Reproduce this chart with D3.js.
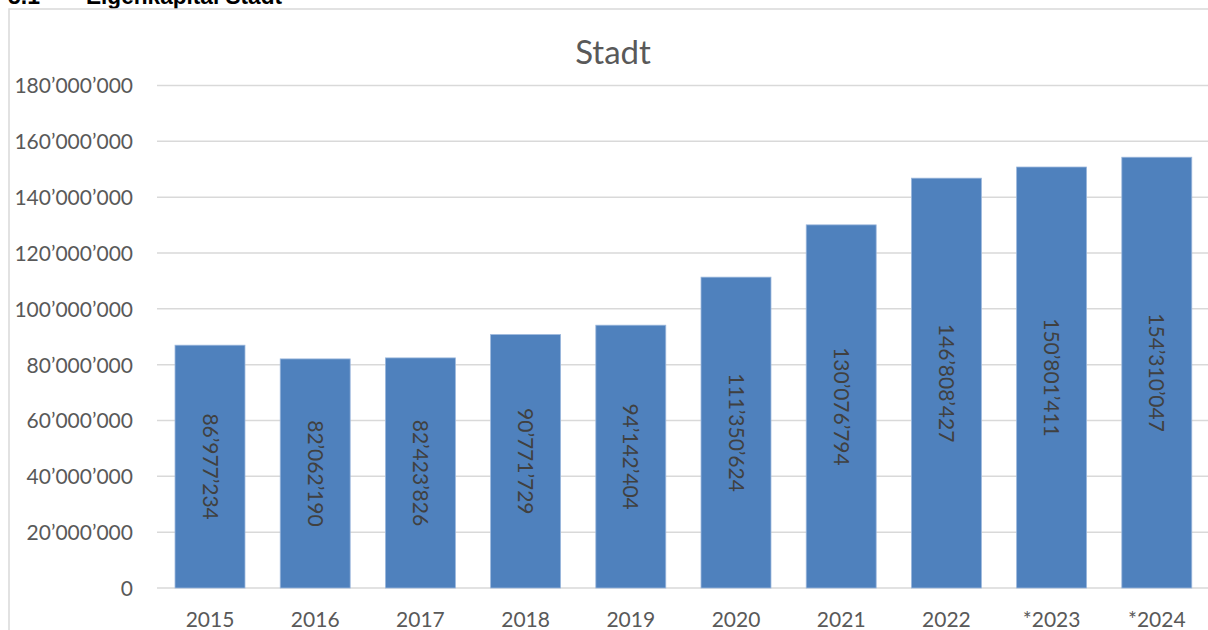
<!DOCTYPE html>
<html>
<head>
<meta charset="utf-8">
<script src="https://cdn.jsdelivr.net/npm/d3@7"></script>
<style>
html,body{margin:0;padding:0;background:#fff;overflow:hidden;}
svg{display:block;}
</style>
</head>
<body>
<svg id="chart" width="1208" height="630"></svg>
<script>
const categories = ["2015","2016","2017","2018","2019","2020","2021","2022","*2023","*2024"];
const values = [86977234, 82062190, 82423826, 90771729, 94142404, 111350624, 130076794, 146808427, 150801411, 154310047];
const yTicks = [0, 20000000, 40000000, 60000000, 80000000, 100000000, 120000000, 140000000, 160000000, 180000000];
const chartTitle = "Stadt";
const sectionHeading = ["5.1", "Eigenkapital Stadt"];

const W = 1208, H = 630;
const svg = d3.select("#chart");
const font = "Lato, 'Open Sans', sans-serif";

const locale = d3.formatLocale({decimal: ".", thousands: "\u2019", grouping: [3], currency: ["", ""]});
const fmt = locale.format(",d");

const x = d3.scaleBand().domain(categories).range([157.4, 1209.4]).paddingInner(0.335).paddingOuter(0.1675);
const y = d3.scaleLinear().domain([0, 180000000]).range([588, 85.5]);

// section heading (cut off at top edge, as in the reference)
const headFont = "'Liberation Sans', Arial, sans-serif";
svg.append("text").attr("x", 8).attr("y", 4).attr("font-family", headFont)
  .attr("font-weight", "bold").attr("font-size", 23).attr("fill", "#000").text(sectionHeading[0]);
svg.append("text").attr("x", 86).attr("y", 4).attr("font-family", headFont)
  .attr("font-weight", "bold").attr("font-size", 23).attr("fill", "#000")
  .attr("textLength", 196).attr("lengthAdjust", "spacingAndGlyphs").text(sectionHeading[1]);

// chart area border (left and top only visible)
svg.append("path").attr("d", `M9,${H} L9,9 L${W},9`)
  .attr("fill", "none").attr("stroke", "#d9d9d9").attr("stroke-width", 1.5);

// title
svg.append("text").attr("x", 613).attr("y", 64).attr("text-anchor", "middle")
  .attr("font-family", font).attr("font-size", 33).attr("fill", "#595959").text(chartTitle);

// y axis labels
const yAxis = d3.axisLeft(y).tickValues(yTicks).tickFormat(d => fmt(d)).tickSize(0).tickPadding(0);
const gy = svg.append("g").attr("transform", "translate(133,0)").call(yAxis);
gy.select(".domain").remove();
gy.selectAll("text").attr("font-family", font).attr("font-size", 21).attr("fill", "#595959").attr("dy", "0.35em");

// gridlines
svg.append("g").selectAll("line").data(yTicks).join("line")
  .attr("x1", 157).attr("x2", W).attr("y1", d => y(d)).attr("y2", d => y(d))
  .attr("stroke", "#d9d9d9").attr("stroke-width", 1.5);

// bars
svg.append("g").selectAll("rect").data(values).join("rect")
  .attr("x", (d, i) => x(categories[i])).attr("width", x.bandwidth())
  .attr("y", d => y(d)).attr("height", d => y(0) - y(d))
  .attr("fill", "#4f81bd").attr("stroke", "#9bb7dc").attr("stroke-width", 0.8);

// data labels (rotated)
svg.append("g").selectAll("text").data(values).join("text")
  .attr("transform", (d, i) => `translate(${x(categories[i]) + x.bandwidth() / 2},${(y(d) + y(0)) / 2}) rotate(90)`)
  .attr("text-anchor", "middle").attr("dy", "0.35em")
  .attr("font-family", font).attr("font-size", 21).attr("fill", "#404040")
  .text(d => fmt(d));

// x axis labels
const xAxis = d3.axisBottom(x).tickSize(0).tickPadding(0);
const gx = svg.append("g").attr("transform", "translate(0,627)").call(xAxis);
gx.select(".domain").remove();
gx.selectAll("text").attr("font-family", font).attr("font-size", 21).attr("fill", "#595959").attr("dy", "0");
</script>
</body>
</html>
